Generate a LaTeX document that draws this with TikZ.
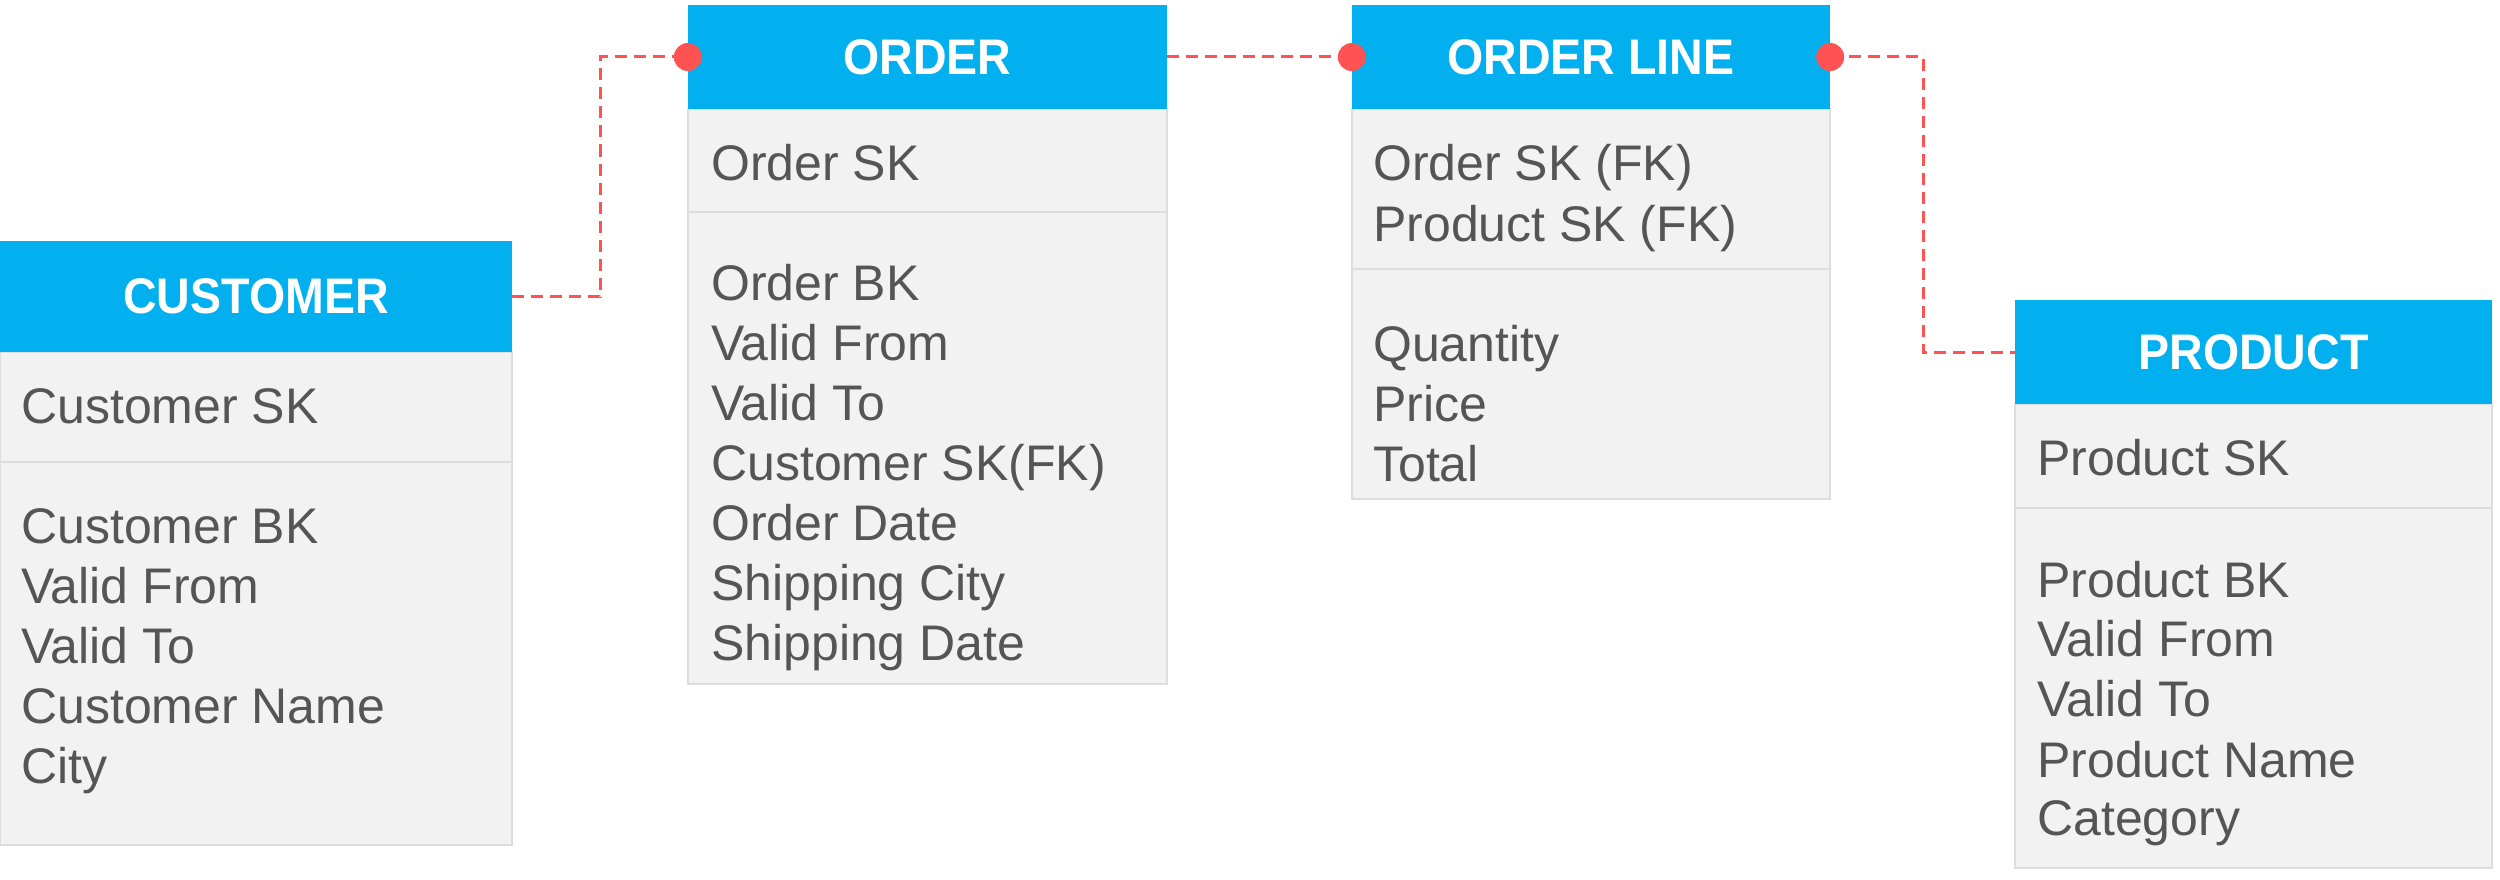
\documentclass[tikz,border=0pt]{standalone}
\usepackage{fontspec}
\setmainfont{Liberation Sans}
\newfontfamily\bodyfont{Liberation Sans}
\newfontfamily\headfont[FakeStretch=0.93]{Liberation Sans}
\definecolor{hdrblue}{HTML}{03B0EF}
\definecolor{bodyfill}{HTML}{F2F2F2}
\definecolor{bordgray}{HTML}{DDDDDD}
\definecolor{txtgray}{HTML}{555555}
\definecolor{lnkred}{HTML}{FF5252}
\tikzset{
  hdr/.style={fill=hdrblue, inner sep=0pt, text=white,
    font=\headfont\bfseries\fontsize{50}{60}\selectfont},
  tbody/.style={fill=bodyfill, draw=bordgray, line width=1.5pt},
  divline/.style={draw=bordgray, line width=2pt},
  field/.style={anchor=base west, inner sep=0pt, text=txtgray,
    font=\bodyfont\fontsize{50}{60}\selectfont},
  conn/.style={draw=lnkred, line width=3pt, dash pattern=on 12pt off 7pt},
  dotend/.style={fill=lnkred}
}
\begin{document}
\begin{tikzpicture}[x=1pt,y=-1pt]
\useasboundingbox[fill=white] (0,0) rectangle (2500,880);

% ---------- CUSTOMER ----------
\path[tbody] (0,352) rectangle (512,845);
\draw[divline] (0,462) -- (512,462);
\node[hdr, minimum width=512pt, minimum height=111pt] (cust) at (256,296.5) {CUSTOMER};
\node[field] (c0) at (21,423) {Customer SK};
\node[field] (c1) at (21,543) {Customer BK};
\node[field] (c2) at (21,603) {Valid From};
\node[field] (c3) at (21,663) {Valid To};
\node[field] (c4) at (21,723) {Customer Name};
\node[field] (c5) at (21,783) {City};

% ---------- ORDER ----------
\path[tbody] (688,109) rectangle (1167,684);
\draw[divline] (688,212) -- (1167,212);
\node[hdr, minimum width=479pt, minimum height=104pt] (ord) at (927.5,57) {ORDER};
\node[field] (o0) at (711,180) {Order SK};
\node[field] (o1) at (711,300) {Order BK};
\node[field] (o2) at (711,360) {Valid From};
\node[field] (o3) at (711,420) {Valid To};
\node[field] (o4) at (711,480) {Customer SK(FK)};
\node[field] (o5) at (711,540) {Order Date};
\node[field] (o6) at (711,600) {Shipping City};
\node[field] (o7) at (711,660) {Shipping Date};

% ---------- ORDER LINE ----------
\path[tbody] (1352,109) rectangle (1830,499);
\draw[divline] (1352,269) -- (1830,269);
\node[hdr, minimum width=478pt, minimum height=104pt] (ol) at (1591,57) {ORDER LINE};
\node[field] (l0) at (1373,180) {Order SK (FK)};
\node[field] (l1) at (1373,241) {Product SK (FK)};
\node[field] (l2) at (1373,361) {Quantity};
\node[field] (l3) at (1373,421) {Price};
\node[field] (l4) at (1373,481) {Total};

% ---------- PRODUCT ----------
\path[tbody] (2015,404) rectangle (2492,868);
\draw[divline] (2015,508) -- (2492,508);
\node[hdr, minimum width=477pt, minimum height=104pt] (prod) at (2253.5,352) {PRODUCT};
\node[field] (p0) at (2037,475) {Product SK};
\node[field] (p1) at (2037,597) {Product BK};
\node[field] (p2) at (2037,656) {Valid From};
\node[field] (p3) at (2037,716) {Valid To};
\node[field] (p4) at (2037,777) {Product Name};
\node[field] (p5) at (2037,835) {Category};

% ---------- CONNECTORS ----------
\draw[conn] (cust.east) -- ++(88,0) |- (ord.west);
\draw[conn] (ord.east) -- (ol.west);
\draw[conn] (ol.east) -- ++(93,0) |- (prod.west);
\fill[dotend] (ord.west) circle (14);
\fill[dotend] (ol.west) circle (14);
\fill[dotend] (ol.east) circle (14);
\end{tikzpicture}
\end{document}
